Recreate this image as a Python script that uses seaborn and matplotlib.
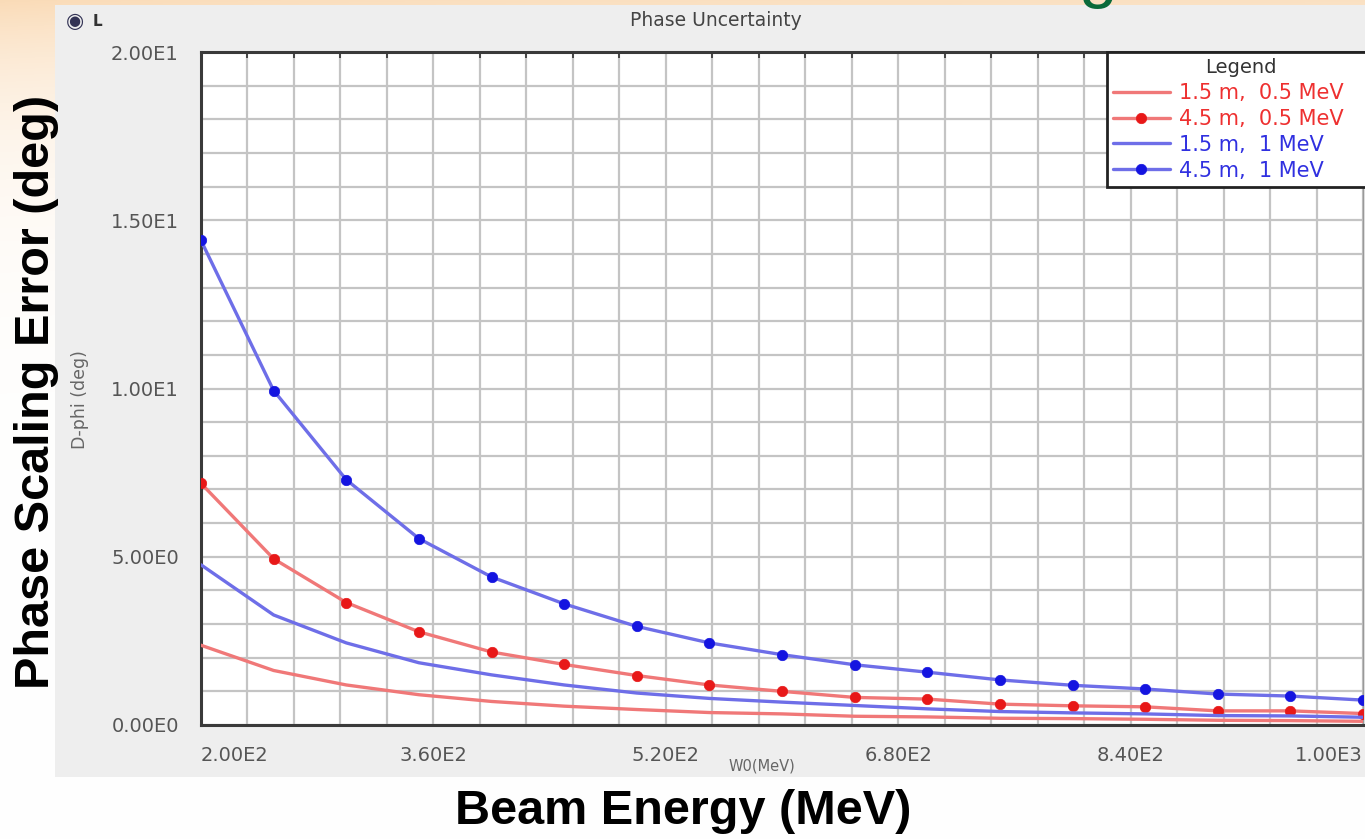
import numpy as np
import pandas as pd
import matplotlib
matplotlib.use("Agg")
import matplotlib.pyplot as plt
import seaborn as sns
from matplotlib.ticker import FixedLocator
from matplotlib.patches import Rectangle

# ---------------- data ----------------
energy = [200, 250, 300, 350, 400, 450, 500, 550, 600, 650, 700, 750, 800, 850, 900, 950, 1000]
err_15m_05mev = [2.37, 1.62, 1.19, 0.90, 0.70, 0.56, 0.46, 0.37, 0.33, 0.26, 0.24, 0.20, 0.19, 0.17, 0.14, 0.13, 0.11]
err_45m_05mev = [7.18, 4.94, 3.64, 2.77, 2.17, 1.80, 1.47, 1.19, 1.00, 0.82, 0.77, 0.62, 0.57, 0.54, 0.42, 0.42, 0.34]
err_15m_1mev = [4.76, 3.27, 2.44, 1.85, 1.49, 1.19, 0.95, 0.79, 0.68, 0.58, 0.48, 0.40, 0.36, 0.33, 0.28, 0.27, 0.23]
err_45m_1mev = [14.4, 9.94, 7.29, 5.54, 4.40, 3.60, 2.93, 2.44, 2.09, 1.79, 1.57, 1.34, 1.18, 1.07, 0.92, 0.86, 0.74]
series_labels = ["1.5 m,  0.5 MeV", "4.5 m,  0.5 MeV", "1.5 m,  1 MeV", "4.5 m,  1 MeV"]
xtick_values = [200, 360, 520, 680, 840, 1000]
xtick_labels = ["2.00E2", "3.60E2", "5.20E2", "6.80E2", "8.40E2", "1.00E3"]
ytick_values = [0, 5, 10, 15, 20]
ytick_labels = ["0.00E0", "5.00E0", "1.00E1", "1.50E1", "2.00E1"]

W, H = 1365, 839
sns.set_theme(style="white")
plt.rcParams['font.family'] = ['DejaVu Sans']

fig = plt.figure(figsize=(W / 100, H / 100), dpi=100)


def fx(px):
    return px / W


def fy(py):
    return 1 - py / H


# ---------------- slide background ----------------
bg = fig.add_axes([0, 0, 1, 1], zorder=-10)
ys = np.arange(H)[:, None]
xs = np.arange(W)[None, :]
t = np.exp(-ys / 110.0) * (0.85 + 0.15 * np.exp(-xs / 400.0))
peach = np.array([0.98, 0.86, 0.72])
img = 1 - t[..., None] * (1 - peach)
bg.imshow(img, extent=[0, 1, 0, 1], aspect='auto', origin='upper', interpolation='bilinear')
bg.add_patch(Rectangle((fx(55), fy(777)), fx(1365) - fx(55), fy(5) - fy(777),
                       facecolor='#eeeeee', edgecolor='none'))
bg.set_xlim(0, 1)
bg.set_ylim(0, 1)
bg.axis('off')

# ---------------- main axes ----------------
ax = fig.add_axes([fx(201), fy(725), fx(1363) - fx(201), fy(52) - fy(725)])
ax.set_facecolor('white')

series = [
    (err_15m_05mev, series_labels[0], '#f07878', None),
    (err_45m_05mev, series_labels[1], '#f07878', '#e81818'),
    (err_15m_1mev, series_labels[2], '#6e6ee8', None),
    (err_45m_1mev, series_labels[3], '#6e6ee8', '#1414e0'),
]
for vals, lab, lc, mc in series:
    kws = dict(x=energy, y=vals, ax=ax, color=lc, lw=2.4, label=lab, zorder=3)
    if mc is not None:
        kws.update(marker='o', markersize=7.5, markerfacecolor=mc,
                   markeredgecolor=mc, markeredgewidth=0.5)
    sns.lineplot(**kws)

ax.set_xlim(200, 1000)
ax.set_ylim(0, 20)
ax.xaxis.set_major_locator(FixedLocator(xtick_values))
ax.set_xticklabels(xtick_labels)
ax.yaxis.set_major_locator(FixedLocator(ytick_values))
ax.set_yticklabels(ytick_labels)
ax.xaxis.set_minor_locator(FixedLocator(np.arange(200, 1001, 32)))
ax.yaxis.set_minor_locator(FixedLocator(np.arange(0, 21, 1)))
ax.grid(which='both', color='#c4c4c4', lw=1.6, zorder=0)
ax.set_axisbelow(True)

ax.tick_params(axis='both', which='major', labelsize=14, labelcolor='#555555',
               color='#444444', width=1.6, length=8, direction='out')
ax.tick_params(axis='both', which='minor', color='#444444', width=1.4, length=5,
               direction='inout')
ax.tick_params(axis='x', which='major', pad=7)
ax.tick_params(axis='y', which='major', pad=8)
ax.tick_params(axis='x', which='minor', top=True, direction='in', length=4)

xl = ax.get_xticklabels()
xl[0].set_ha('left')
xl[-1].set_ha('right')

for side in ['top', 'left', 'bottom']:
    ax.spines[side].set_color('#3a3a3a')
    ax.spines[side].set_linewidth(2.2)
ax.spines['right'].set_color('#999999')
ax.spines['right'].set_linewidth(1)

ax.set_xlabel('')
ax.set_ylabel('')

# legend: left edge at x = 1107 px, box running past the right edge of the picture
ax_w = 1363 - 201
leg = ax.legend(title='Legend', loc='upper left',
                bbox_to_anchor=((1107 - 201) / ax_w, 0.0, (1375 - 1107) / ax_w, 1.0),
                mode='expand', borderaxespad=0, frameon=True, fancybox=False, fontsize=15,
                title_fontsize=14, handlelength=2.7, handletextpad=0.45,
                labelspacing=0.28, borderpad=0.3)
leg.get_frame().set_edgecolor('#222222')
leg.get_frame().set_linewidth(2)
leg.get_frame().set_alpha(1)
leg.get_title().set_color('#333333')
for txt, c in zip(leg.get_texts(), ['#ee3030', '#ee3030', '#3030e0', '#3030e0']):
    txt.set_color(c)

# ---------------- panel texts ----------------
fig.text(fx(716), fy(21), 'Phase Uncertainty', ha='center', va='center',
         fontsize=13.5, color='#444444')
fig.text(fx(75), fy(21), '\u25c9', ha='center', va='center', fontsize=15, color='#333355')
fig.text(fx(97), fy(21), 'L', ha='center', va='center', fontsize=11, fontweight='bold',
         color='#333333')
fig.text(fx(80), fy(400), 'D-phi (deg)', rotation=90, ha='center', va='center',
         fontsize=12.5, color='#666666')
fig.text(fx(762), fy(766), 'W0(MeV)', ha='center', va='center', fontsize=10.5, color='#666666')

# ---------------- slide texts ----------------
fig.text(fx(683), fy(812), 'Beam Energy (MeV)', ha='center', va='center',
         fontsize=35, fontweight='bold', family=['Liberation Sans', 'DejaVu Sans'], color='black')
fig.text(fx(37), fy(392), 'Phase Scaling Error (deg)', ha='center', va='center', rotation=90,
         fontsize=35, fontweight='bold', family=['Liberation Sans', 'DejaVu Sans'], color='black')
fig.text(fx(1097), 1 + 5 / H, 'g', ha='center', va='baseline', fontsize=50,
         color='#0a6a3a', family=['Liberation Sans', 'DejaVu Sans'])

fig.savefig('out.png', dpi=100)
